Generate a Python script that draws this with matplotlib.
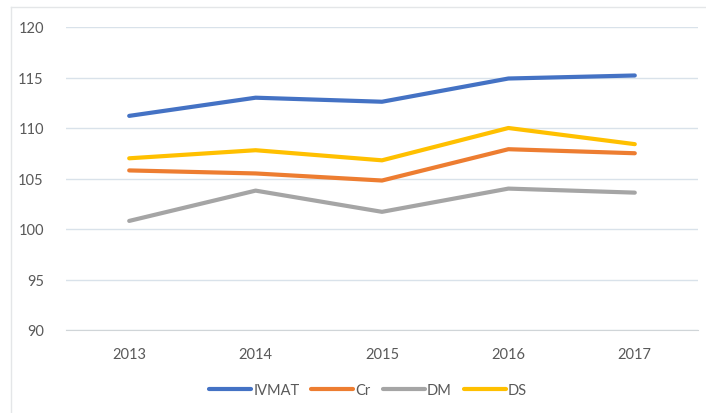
import matplotlib.pyplot as plt
from matplotlib.lines import Line2D

years = ['2013', '2014', '2015', '2016', '2017']
ivmat = [111.2, 113.0, 112.6, 114.9, 115.2]
cr = [105.8, 105.5, 104.8, 107.9, 107.5]
dm = [100.8, 103.8, 101.7, 104.0, 103.6]
ds = [107.0, 107.8, 106.8, 110.0, 108.4]

series = [('IVMAT', ivmat, '#4472C4'),
          ('Cr', cr, '#ED7D31'),
          ('DM', dm, '#A5A5A5'),
          ('DS', ds, '#FFC000')]

TEXT_COLOR = '#595959'
GRID_COLOR = '#D9E2EA'

plt.rcParams['font.family'] = ['Lato', 'DejaVu Sans']

fig = plt.figure(figsize=(7.06, 4.14), dpi=100)
ax = fig.add_axes([66 / 706, 1 - 331 / 414, 632 / 706, 303 / 414])

x = range(len(years))
for name, vals, color in series:
    ax.plot(x, vals, color=color, lw=3, label=name, solid_capstyle='round')

ax.set_xlim(-0.5, len(years) - 0.5)
ax.set_ylim(90, 120)
ax.set_yticks(range(90, 121, 5))
ax.set_xticks(list(x))
ax.set_xticklabels(years)

ax.grid(axis='y', color=GRID_COLOR, lw=1)
ax.set_axisbelow(True)
for side in ['top', 'right', 'left']:
    ax.spines[side].set_visible(False)
ax.spines['bottom'].set_color('#D0D5D8')
ax.tick_params(axis='both', length=0, labelsize=10.5, colors=TEXT_COLOR)
ax.tick_params(axis='y', pad=16)
ax.tick_params(axis='x', pad=12)

fig.legend(loc='center', bbox_to_anchor=(368 / 706, 1 - 391 / 414), ncol=4,
           frameon=False, fontsize=10.5, handlelength=2.9, handletextpad=0.15,
           columnspacing=0.8, labelcolor=TEXT_COLOR)

# light chart border (left and top edges visible)
fig.add_artist(Line2D([11 / 706, 11 / 706], [0, 1 - 8 / 414], transform=fig.transFigure,
                      color='#E4E6E8', lw=1))
fig.add_artist(Line2D([11 / 706, 1], [1 - 8 / 414, 1 - 8 / 414], transform=fig.transFigure,
                      color='#E4E6E8', lw=1))

fig.savefig('out.png', dpi=100)
